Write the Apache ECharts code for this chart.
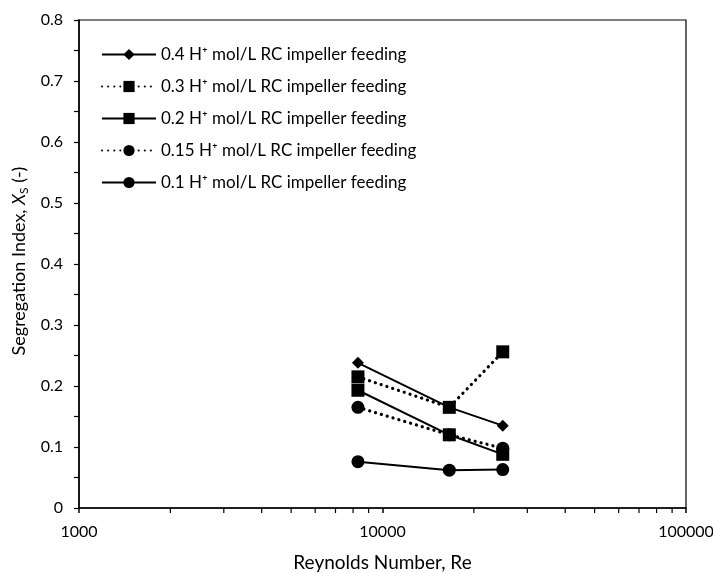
<!DOCTYPE html>
<html><head><meta charset="utf-8">
<script src="https://cdn.jsdelivr.net/npm/echarts@6/dist/echarts.min.js"></script>
<style>html,body{margin:0;padding:0;background:#fff}#c{width:713px;height:573px}</style>
</head><body><div id="c"></div>
<script>
const reynolds = [8300, 16600, 24900];
const names = [
  '0.4 H\u207A mol/L RC impeller feeding',
  '0.3 H\u207A mol/L RC impeller feeding',
  '0.2 H\u207A mol/L RC impeller feeding',
  '0.15 H\u207A mol/L RC impeller feeding',
  '0.1 H\u207A mol/L RC impeller feeding'
];
const xs04 = [0.238, 0.165, 0.135];
const xs03 = [0.215, 0.165, 0.256];
const xs02 = [0.193, 0.120, 0.088];
const xs015 = [0.165, 0.120, 0.098];
const xs01 = [0.076, 0.062, 0.063];
const minorTicksX = [2000,3000,4000,5000,6000,7000,8000,9000,20000,30000,40000,50000,60000,70000,80000,90000];

const FONT = 'Lato';
const pair = arr => reynolds.map((r, i) => [r, arr[i]]);
function mk(name, arr, symbol, size, dotted) {
  return {
    name, type: 'line', data: pair(arr), symbol, symbolSize: size,
    itemStyle: { color: '#000' },
    lineStyle: dotted
      ? { color: '#000', width: 3.2, type: [0.1, 6], cap: 'round' }
      : { color: '#000', width: 2 },
    z: 3
  };
}

const chart = echarts.init(document.getElementById('c'), null, { renderer: 'canvas' });
chart.setOption({
  animation: false,
  backgroundColor: '#fff',
  textStyle: { fontFamily: FONT },
  grid: { left: 79, right: 27, top: 20, bottom: 65, show: true, borderColor: '#000', borderWidth: 1.2,
    containLabel: false, outerBoundsMode: 'none' },
  legend: {
    data: names,
    left: 101, top: 46, orient: 'vertical', padding: 0,
    itemWidth: 54, itemHeight: 14, itemGap: 15,
    textStyle: { fontFamily: FONT, fontSize: 17, color: '#000' }
  },
  xAxis: {
    type: 'log', logBase: 10, min: 1000, max: 100000,
    name: 'Reynolds Number, Re', nameLocation: 'middle', nameGap: 45,
    nameTextStyle: { fontFamily: FONT, fontSize: 19, color: '#000' },
    axisLine: { lineStyle: { color: '#000', width: 1.5 } },
    axisTick: { show: true, length: 5, lineStyle: { color: '#000', width: 1.5 } },
    axisLabel: { color: '#000', fontSize: 16, fontFamily: FONT, margin: 16,
      formatter: v => String(Math.round(v)) },
    splitLine: { show: false }
  },
  yAxis: {
    type: 'value', min: 0, max: 0.8, interval: 0.1,
    name: '{a|Segregation Index, }{i|X}{s|S}{a| (-)}', nameLocation: 'middle', nameGap: 47,
    nameTextStyle: {
      padding: [0, 0, 0, 6],
      rich: {
        a: { fontFamily: FONT, fontSize: 18, color: '#000' },
        i: { fontFamily: FONT, fontSize: 18, color: '#000', fontStyle: 'italic' },
        s: { fontFamily: FONT, fontSize: 12, color: '#000', padding: [9, 0, 0, 0] }
      }
    },
    axisLine: { show: true, lineStyle: { color: '#000', width: 1.5 } },
    axisTick: { show: true, length: 5, lineStyle: { color: '#000', width: 1.2 } },
    minorTick: { show: true, splitNumber: 2, length: 5, lineStyle: { color: '#000', width: 1.2 } },
    axisLabel: { color: '#000', fontSize: 16, fontFamily: FONT, margin: 16,
      formatter: v => v === 0 ? '0' : v.toFixed(1) },
    splitLine: { show: false }
  },
  series: [
    mk(names[0], xs04, 'diamond', 12, false),
    mk(names[1], xs03, 'rect', 13, true),
    mk(names[2], xs02, 'rect', 13, false),
    mk(names[3], xs015, 'circle', 13, true),
    mk(names[4], xs01, 'circle', 13, false),
    {
      type: 'custom', name: 'minorTicks', silent: true, clip: false,
      data: minorTicksX.map(v => [v, 0]),
      renderItem: (params, api) => {
        const p = api.coord([api.value(0), 0]);
        return { type: 'line', shape: { x1: p[0], y1: p[1], x2: p[0], y2: p[1] + 5 },
          style: { stroke: '#000', lineWidth: 1.2 } };
      },
      z: 5
    }
  ]
});
</script></body></html>
